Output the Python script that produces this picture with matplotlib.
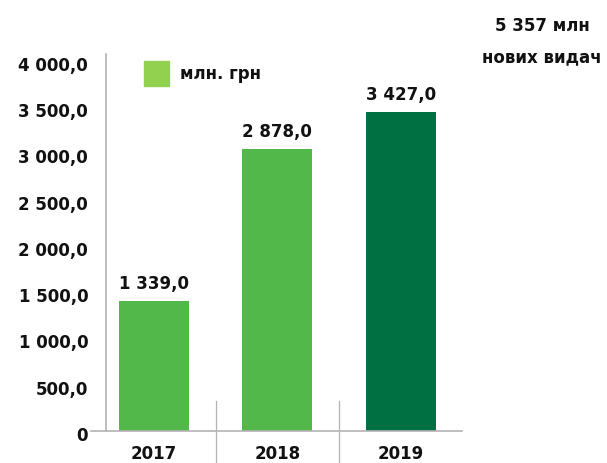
import matplotlib.pyplot as plt
import matplotlib.transforms as mtransforms

years = ['2017', '2018', '2019']
# bar heights as drawn in the picture, and the printed value labels
heights = [1404, 3045, 3445]
value_labels = ['1 339,0', '2 878,0', '3 427,0']
yticks = [0, 500, 1000, 1500, 2000, 2500, 3000, 3500, 4000]
ytick_labels = ['0', '500,0', '1 000,0', '1 500,0', '2 000,0',
                '2 500,0', '3 000,0', '3 500,0', '4 000,0']
legend_label = 'млн. грн'
header = ['5 357 млн', 'нових видач']

light = '#52b84a'
dark = '#006f41'
legend_col = '#92d050'
grey = '#b3b3b3'
txt = '#111111'
fs = 12

plt.rcParams['font.family'] = 'DejaVu Sans'
plt.rcParams['font.weight'] = 'bold'

fig = plt.figure(figsize=(6.07, 4.63), dpi=100)
ax = fig.add_axes([0.1499, 0.0691, 0.611, 0.800])

x = list(range(len(years)))
colors = [light, light, dark]
ax.bar(x, heights, width=0.567, color=colors, zorder=2)

for xi, h, lab in zip(x, heights, value_labels):
    ax.annotate(lab, (xi, h), xytext=(0, 8.5), textcoords='offset points',
                ha='center', va='baseline', fontsize=fs, fontweight='bold',
                color=txt)

ax.set_xlim(-0.51, 2.494)
ax.set_ylim(0, 4000)

for s in ['top', 'right', 'left']:
    ax.spines[s].set_visible(False)
ax.spines['bottom'].set_color(grey)
ax.spines['bottom'].set_linewidth(1.2)

# y axis line offset to the right of the x axis start
trans = mtransforms.blended_transform_factory(ax.transData, ax.transAxes)
ax.plot([-0.389, -0.389], [0, 1.017], transform=trans, color=grey,
        lw=1.2, clip_on=False)
# separators between categories
for sx in [0.5, 1.5]:
    ax.plot([sx, sx], [-0.09, 0.081], transform=trans, color=grey,
            lw=0.9, clip_on=False)

ax.set_yticks(yticks)
ax.set_yticklabels(ytick_labels)
ax.set_xticks(x)
ax.set_xticklabels(years)
ax.tick_params(axis='y', length=0, pad=2, labelsize=fs, labelcolor=txt)
ax.tick_params(axis='x', length=0, pad=10, labelsize=fs, labelcolor=txt)
offset = mtransforms.ScaledTranslation(0, -3 / 100, fig.dpi_scale_trans)
for t in ax.get_yticklabels():
    t.set_transform(t.get_transform() + offset)
    t.set_fontweight('bold')
for t in ax.get_xticklabels():
    t.set_fontweight('bold')

# legend square and label
fig.patches.append(plt.Rectangle((144 / 607, 1 - 86 / 463), 25 / 607, 25 / 463,
                                 transform=fig.transFigure, color=legend_col))
fig.text(180 / 607, 1 - 74 / 463, legend_label, fontsize=fs,
         fontweight='bold', va='center', ha='left', color=txt)

fig.text(542 / 607, 1 - 26 / 463, header[0], fontsize=fs,
         fontweight='bold', va='center', ha='center', color=txt)
fig.text(542 / 607, 1 - 57 / 463, header[1], fontsize=fs,
         fontweight='bold', va='center', ha='center', color=txt)

fig.savefig('out.png', dpi=100)
